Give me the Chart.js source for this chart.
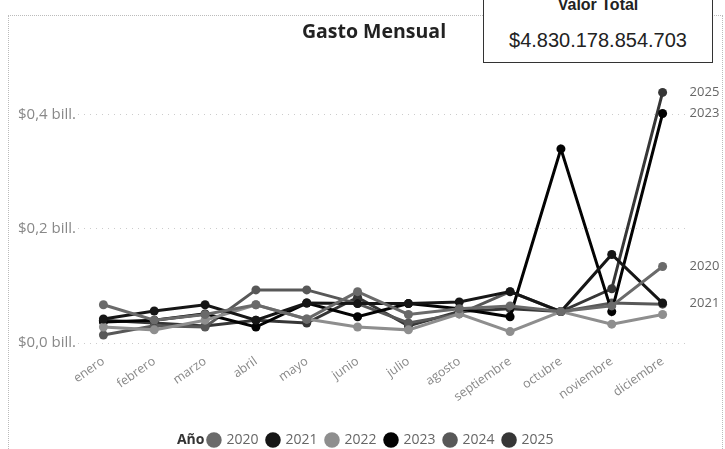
<!DOCTYPE html>
<html>
<head>
<meta charset="utf-8">
<script src="https://cdn.jsdelivr.net/npm/chart.js@4/dist/chart.umd.min.js"></script>
<style>
  body { margin: 0; background: #fff; overflow: hidden; }
  #wrap { position: relative; width: 725px; height: 449px; }
  #frame { position: absolute; left: 8px; top: 15px; width: 713px; height: 460px; border: 1px dotted #bbb; }
  #titulo { position: absolute; left: 294px; top: 17px; width: 160px; text-align: center;
            font: bold 19.5px "Open Sans", sans-serif; color: #222; white-space: nowrap; }
  #total { position: absolute; left: 483px; top: -20px; width: 228px; height: 81px; border: 1px solid #333; background: #fff;
           font-family: "Liberation Sans", Arial, sans-serif; text-align: center; color: #222; }
  #total .lbl { font-size: 16px; font-weight: bold; margin-top: 15px; }
  #total .val { font-size: 20px; margin-top: 15px; }
  canvas { position: absolute; left: 0; top: 0; }
</style>
</head>
<body>
<div id="wrap">
  <div id="frame"></div>
  <canvas id="chart" width="725" height="449"></canvas>
  <div id="titulo">Gasto Mensual</div>
  <div id="total"><div class="lbl">Valor Total</div><div class="val">$4.830.178.854.703</div></div>
</div>
<script>
// meses y valores (billones de pesos)
const meses = ['enero', 'febrero', 'marzo', 'abril', 'mayo', 'junio', 'julio', 'agosto', 'septiembre', 'octubre', 'noviembre', 'diciembre'];
const anios = ['2020', '2021', '2022', '2023', '2024', '2025'];
const colores = ['#6a6a6a', '#161616', '#8e8e8e', '#030303', '#585858', '#363636'];

const v2020 = [0.067, 0.040, 0.050, 0.067, 0.042, 0.090, 0.050, 0.060, 0.065, 0.055, 0.065, 0.134];
const v2021 = [0.042, 0.056, 0.067, 0.040, 0.070, 0.069, 0.069, 0.072, 0.090, 0.055, 0.155, 0.070];
const v2022 = [0.028, 0.023, 0.040, 0.067, 0.042, 0.028, 0.023, 0.051, 0.020, 0.055, 0.033, 0.050];
const v2023 = [0.037, 0.040, 0.051, 0.028, 0.070, 0.046, 0.069, 0.060, 0.046, 0.340, 0.055, 0.402];
const v2024 = [0.014, 0.030, 0.028, 0.093, 0.093, 0.069, 0.035, 0.051, 0.090, 0.055, 0.070, 0.068];
const v2025 = [0.040, 0.035, 0.030, 0.040, 0.035, 0.080, 0.030, 0.055, 0.060, 0.055, 0.095, 0.439];

const yTicks = [0, 0.2, 0.4];
const etiquetasFin = ['2025', '2023', '2020', '2021']; // las demás se tapan

const series = [v2020, v2021, v2022, v2023, v2024, v2025];

const legendShift = 28; // la leyenda va un poco a la derecha por el "Año"

const extras = {
  id: 'extras',
  afterUpdate(chart) { chart.$shifted = false; },
  beforeDraw(chart) {
    const lg = chart.legend;
    if (chart.$shifted || !lg) return;
    lg.left += legendShift;
    lg.right += legendShift;
    (lg.legendHitBoxes || []).forEach(b => { b.left += legendShift; });
    chart.$shifted = true;
  },
  afterDraw(chart) {
    const ctx = chart.ctx;
    ctx.save();
    const boxes = chart.legend.legendHitBoxes;
    if (boxes && boxes.length) {
      ctx.font = 'bold 14px "Open Sans", sans-serif';
      ctx.fillStyle = '#333';
      ctx.textAlign = 'right';
      ctx.textBaseline = 'middle';
      ctx.fillText('Año', boxes[0].left - 4, boxes[0].top + boxes[0].height / 2);
    }
    // etiquetas al final de cada línea
    ctx.font = '13px "Open Sans", sans-serif';
    ctx.fillStyle = '#666';
    ctx.textAlign = 'left';
    chart.data.datasets.forEach((ds, i) => {
      if (!etiquetasFin.includes(ds.label)) return;
      const pts = chart.getDatasetMeta(i).data;
      const p = pts[pts.length - 1];
      ctx.fillText(ds.label, p.x + 27, p.y);
    });
    ctx.restore();
  }
};

const ctx = document.getElementById('chart').getContext('2d');
new Chart(ctx, {
  type: 'line',
  data: {
    labels: meses,
    datasets: anios.map((a, i) => ({
      label: a,
      data: series[i],
      borderColor: colores[i],
      backgroundColor: colores[i],
      borderWidth: 3,
      pointRadius: 4.5,
      pointBorderWidth: 0,
      tension: 0
    }))
  },
  options: {
    responsive: false,
    animation: false,
    layout: { padding: { left: 18, right: 37, top: 69, bottom: -8 } },
    plugins: {
      title: { display: false },
      legend: {
        position: 'bottom',
        labels: {
          usePointStyle: true,
          pointStyle: 'circle',
          boxWidth: 11,
          boxHeight: 11,
          padding: 9,
          color: '#666',
          font: { family: '"Open Sans", sans-serif', size: 14 }
        }
      },
      tooltip: { enabled: false }
    },
    scales: {
      x: {
        offset: true,
        grid: { display: false },
        border: { display: false },
        ticks: {
          color: '#888',
          minRotation: 35,
          maxRotation: 35,
          font: { family: '"Open Sans", sans-serif', size: 12.5 }
        },
        afterFit: scale => { scale.height = 81; }
      },
      y: {
        min: 0,
        max: 0.48,
        afterBuildTicks: axis => { axis.ticks = yTicks.map(v => ({ value: v })); },
        grid: { color: '#ccc', lineWidth: 1, drawTicks: false },
        border: { display: false, dash: [1, 5] },
        ticks: {
          color: '#888',
          padding: 0,
          crossAlign: 'far',
          font: { family: '"Open Sans", sans-serif', size: 15 },
          callback: v => '$' + v.toFixed(1).replace('.', ',') + ' bill.'
        },
        afterFit: scale => { scale.width = 60; }
      }
    }
  },
  plugins: [extras]
});
</script>
</body>
</html>
